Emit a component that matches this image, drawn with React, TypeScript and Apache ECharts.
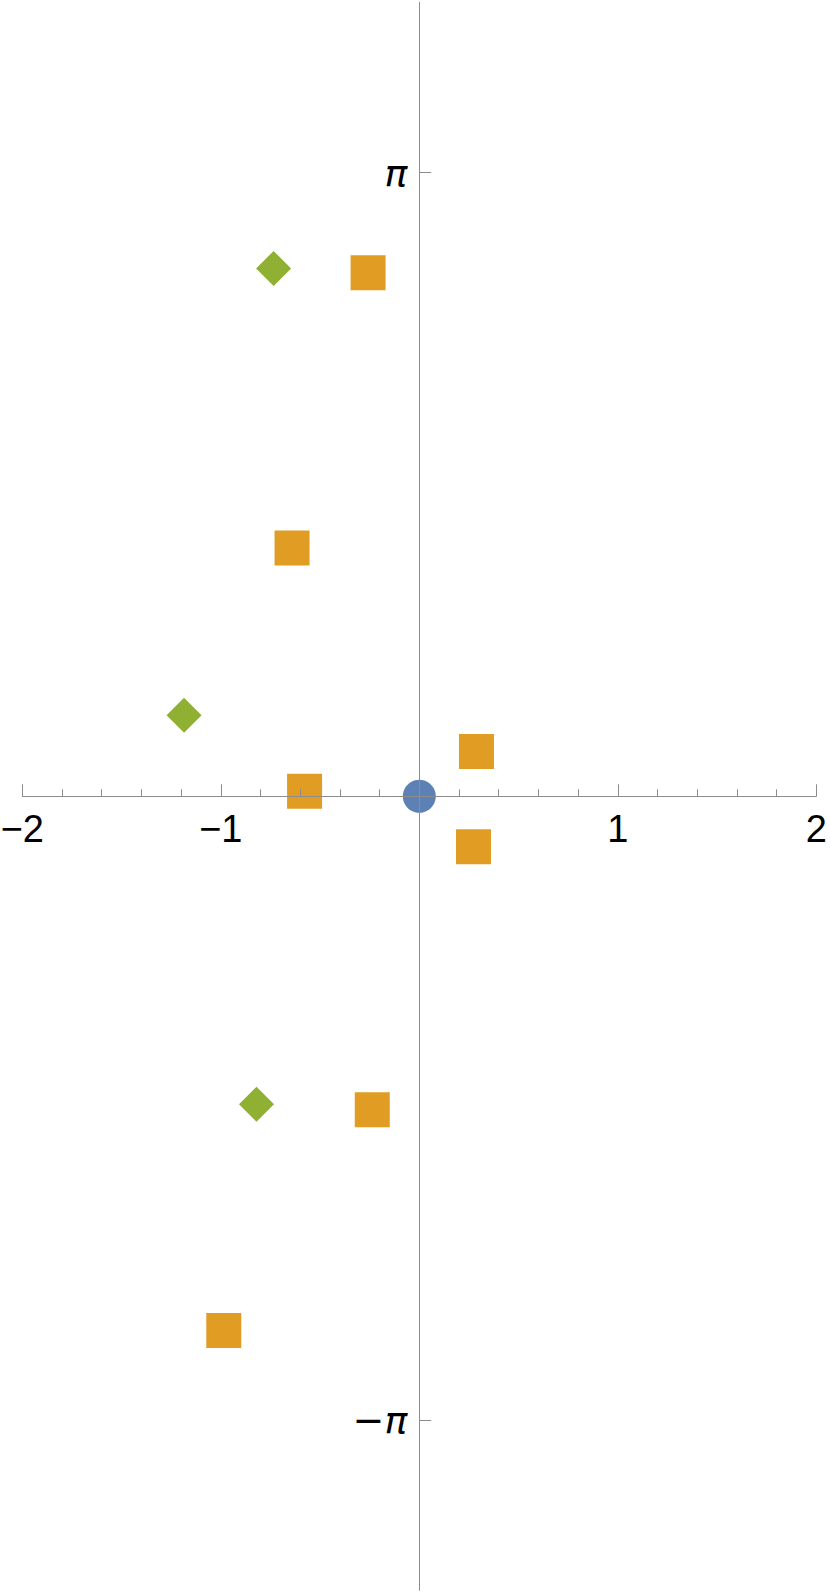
import React, { useEffect, useRef } from "react";
import * as echarts from "echarts";

const xTicks = [-2, -1, 0, 1, 2];
const yTickValues = [-Math.PI, Math.PI];
const yTickLabels = ["−π", "π"];

const originPoints: [number, number][] = [[0, 0]];
const squarePoints: [number, number][] = [
  [-0.258, 2.638],
  [-0.641, 1.251],
  [0.288, 0.226],
  [-0.578, 0.026],
  [0.273, -0.254],
  [-0.237, -1.579],
  [-0.985, -2.691],
];
const diamondPoints: [number, number][] = [
  [-0.734, 2.659],
  [-1.185, 0.408],
  [-0.82, -1.551],
];

const axisGray = "#8c8c8c";
const GRID_LEFT = 22.3;
const GRID_RIGHT = 13.7;
const GRID_TOP = 2.3;
const GRID_BOTTOM = 5.7;
const W = 830;
const H = 1596;

export default function App() {
  const ref = useRef<HTMLDivElement>(null);
  useEffect(() => {
    if (!ref.current) return;
    const chart = echarts.init(ref.current, null, { renderer: "svg" });
    const plotW = W - GRID_LEFT - GRID_RIGHT;
    const plotH = H - GRID_TOP - GRID_BOTTOM;
    // move axes onto the origin using offsets (x range [-2,2], y range [-4,4])
    const xOffset = -plotH / 2;
    const yOffset = -plotW / 2;
    chart.setOption({
      animation: false,
      backgroundColor: "#ffffff",
      grid: {
        left: GRID_LEFT,
        right: GRID_RIGHT,
        top: GRID_TOP,
        bottom: GRID_BOTTOM,
        containLabel: false,
        outerBoundsMode: "none",
      },
      xAxis: {
        type: "value",
        min: -2,
        max: 2,
        interval: 1,
        position: "bottom",
        offset: xOffset,
        z: 10,
        splitLine: { show: false },
        axisLine: { onZero: false, lineStyle: { color: axisGray, width: 1 } },
        axisTick: { show: true, inside: true, length: 12, lineStyle: { color: axisGray } },
        minorTick: { show: true, splitNumber: 5, length: 7, lineStyle: { color: axisGray } },
        axisLabel: {
          show: true,
          margin: 14,
          fontSize: 38,
          fontFamily: "Liberation Sans, Arial, sans-serif",
          color: "#000",
          hideOverlap: false,
          formatter: (v: number) => (v === 0 ? "" : v < 0 ? "−" + Math.abs(v) : String(v)),
        },
      },
      yAxis: {
        type: "value",
        min: -4,
        max: 4,
        position: "left",
        offset: yOffset,
        z: 10,
        splitLine: { show: false },
        axisLine: { onZero: false, lineStyle: { color: axisGray, width: 1 } },
        axisTick: {
          show: true,
          inside: true,
          length: 12,
          customValues: yTickValues,
          lineStyle: { color: axisGray },
        },
        minorTick: { show: false },
        axisLabel: {
          show: true,
          margin: 12,
          fontSize: 38,
          fontStyle: "italic",
          fontFamily: "DejaVu Sans, sans-serif",
          color: "#000",
          hideOverlap: false,
          customValues: yTickValues,
          formatter: (v: number) => (v < 0 ? yTickLabels[0] : yTickLabels[1]),
        },
      },
      series: [
        {
          type: "scatter",
          data: originPoints,
          symbol: "circle",
          symbolSize: 33,
          itemStyle: { color: "#5E81B5", opacity: 1 },
          z: 2,
        },
        {
          type: "scatter",
          data: squarePoints,
          symbol: "rect",
          symbolSize: 35,
          itemStyle: { color: "#E19C24", opacity: 1 },
          z: 2,
        },
        {
          type: "scatter",
          data: diamondPoints,
          symbol: "diamond",
          symbolSize: 35,
          itemStyle: { color: "#8FB032", opacity: 1 },
          z: 2,
        },
      ],
    });
    return () => chart.dispose();
  }, []);
  return (
    <div
      ref={ref}
      style={{ position: "absolute", left: 0, top: 0, width: W, height: H }}
    />
  );
}
